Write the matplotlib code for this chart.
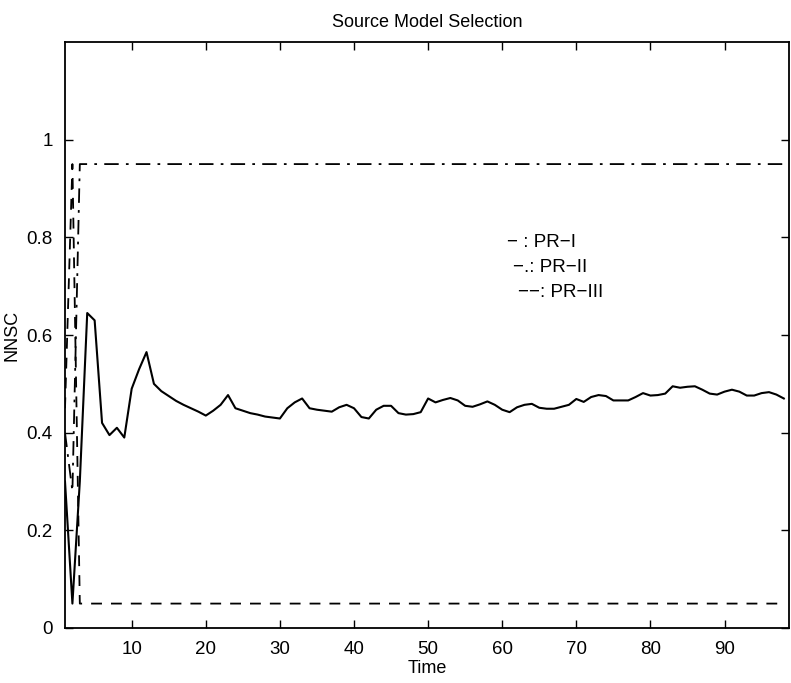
import numpy as np
import matplotlib
matplotlib.use('Agg')
import matplotlib.pyplot as plt

plt.rcParams['font.family'] = ['Liberation Sans', 'DejaVu Sans']

# NNSC values over time
time = np.arange(1, 99)
pr1 = [0.30, 0.05, 0.30, 0.645, 0.63, 0.42, 0.395, 0.41, 0.39, 0.49,
       0.53, 0.565, 0.50, 0.485, 0.475, 0.465, 0.457, 0.45, 0.443, 0.435,
       0.445, 0.457, 0.477, 0.45, 0.445, 0.44, 0.437, 0.433, 0.431, 0.429,
       0.45, 0.462, 0.47, 0.45, 0.447, 0.445, 0.443, 0.452, 0.457, 0.45,
       0.432, 0.429, 0.447, 0.455, 0.455, 0.44, 0.437, 0.438, 0.442, 0.47,
       0.462, 0.467, 0.471, 0.466, 0.455, 0.453, 0.458, 0.464, 0.457, 0.447,
       0.442, 0.452, 0.457, 0.459, 0.451, 0.449, 0.449, 0.453, 0.457, 0.469,
       0.463, 0.473, 0.477, 0.475, 0.466, 0.466, 0.466, 0.473, 0.481, 0.476,
       0.477, 0.48, 0.495, 0.492, 0.494, 0.495, 0.488, 0.48, 0.478, 0.484,
       0.488, 0.484, 0.476, 0.476, 0.481, 0.483, 0.478, 0.47]
pr2 = [0.40, 0.28] + [0.95] * 96
pr3 = [0.45, 0.95] + [0.05] * 96

fig = plt.figure(figsize=(7.91, 6.83), dpi=100)
ax = fig.add_axes([65 / 791, 55 / 683, 724 / 791, 586 / 683])

ax.plot(time, pr1, color='black', lw=1.5, linestyle='-')
ax.plot(time, pr2, color='black', lw=1.3, linestyle=(0, (8, 4, 1.5, 4)))
ax.plot(time, pr3, color='black', lw=1.3, linestyle=(0, (6, 5)))

ax.set_xlim(1, 98.7)
ax.set_ylim(0, 1.2)
ax.set_xticks(np.arange(10, 91, 10))
ax.set_yticks([0, 0.2, 0.4, 0.6, 0.8, 1])
ax.set_yticklabels(['0', '0.2', '0.4', '0.6', '0.8', '1'])
ax.tick_params(direction='in', length=6, width=1, top=True, right=True,
               labelsize=13.5, pad=9)
for s in ax.spines.values():
    s.set_linewidth(1.3)

ax.set_xlabel('Time', fontsize=13, labelpad=2)
ax.set_ylabel('NNSC', fontsize=13, labelpad=4)
ax.set_title('Source Model Selection', fontsize=13, pad=11)

# legend written as plain text, like the original
ax.text(60.7, 0.79, '− : PR−I', fontsize=13.5, va='center')
ax.text(61.4, 0.738, '−.: PR−II', fontsize=13.5, va='center')
ax.text(62.1, 0.687, '−−: PR−III', fontsize=13.5, va='center')

fig.savefig('out.png', dpi=100)
